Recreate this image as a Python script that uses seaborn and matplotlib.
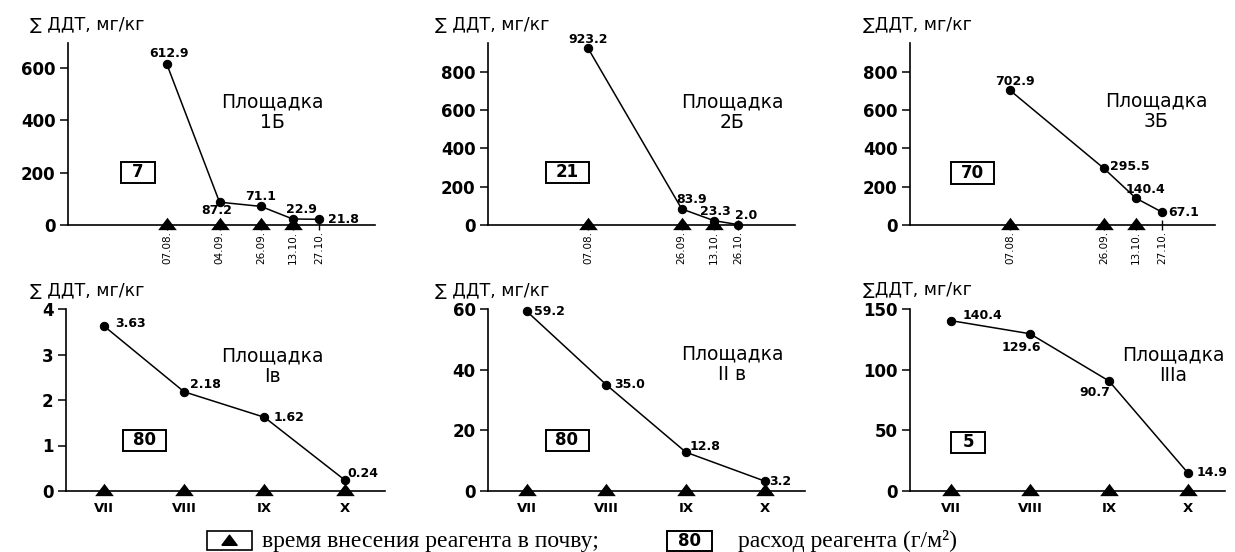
import numpy as np
import pandas as pd
import matplotlib
matplotlib.use('Agg')
import matplotlib.pyplot as plt
from matplotlib.markers import MarkerStyle
from matplotlib.patches import Rectangle
import seaborn as sns

# top row: sampling dates and sum of DDT, mg/kg
dates_1b = ['07.08.', '04.09.', '26.09.', '13.10.', '27.10.']
ddt_1b = [612.9, 87.2, 71.1, 22.9, 21.8]
treat_1b = ['07.08.', '04.09.', '26.09.', '13.10.']

dates_2b = ['07.08.', '26.09.', '13.10.', '26.10.']
ddt_2b = [923.2, 83.9, 23.3, 2.0]
treat_2b = ['07.08.', '26.09.', '13.10.']

dates_3b = ['07.08.', '26.09.', '13.10.', '27.10.']
ddt_3b = [702.9, 295.5, 140.4, 67.1]
treat_3b = ['07.08.', '26.09.', '13.10.']

# bottom row: months
months = ['VII', 'VIII', 'IX', 'X']
ddt_1v = [3.63, 2.18, 1.62, 0.24]
ddt_2v = [59.2, 35.0, 12.8, 3.2]
ddt_3a = [140.4, 129.6, 90.7, 14.9]
treat_months = ['VII', 'VIII', 'IX', 'X']

sites = ['1Б', '2Б', '3Б', 'Iв', 'II в', 'IIIа']
doses = [7, 21, 70, 80, 80, 5]
ylabels = ['∑ ДДТ, мг/кг', '∑ ДДТ, мг/кг', '∑ДДТ, мг/кг',
           '∑ ДДТ, мг/кг', '∑ ДДТ, мг/кг', '∑ДДТ, мг/кг']

sns.set_style('ticks')
plt.rcParams['font.family'] = ['DejaVu Sans']
plt.rcParams['text.color'] = 'black'
plt.rcParams['xtick.color'] = 'black'
plt.rcParams['ytick.color'] = 'black'
plt.rcParams['axes.edgecolor'] = 'black'

W, H = 1235, 552
fig = plt.figure(figsize=(W / 100, H / 100), dpi=100)


def rect(l, t, r, b):
    return [l / W, 1 - b / H, (r - l) / W, (b - t) / H]


def doy(d):
    return pd.to_datetime(d + '2001', format='%d.%m.%Y').dayofyear


TRI = MarkerStyle(np.array([[-1, -0.5], [1, -0.5], [0, 0.83], [-1, -0.5]]))


def draw(ax, x, y, tx, labels, offs, xlim, ylim, yticks):
    sns.lineplot(x=x, y=y, ax=ax, color='black', linewidth=1.1, marker='o',
                 markersize=6, markeredgecolor='black', clip_on=False, zorder=4)
    sns.scatterplot(x=tx, y=np.zeros(len(tx)), ax=ax, marker=TRI, s=180,
                    color='black', linewidth=0, clip_on=False, zorder=3)
    for xi, yi, s, (dx, dy, ha) in zip(x, y, labels, offs):
        ax.annotate(s, (xi, yi), xytext=(dx, dy), textcoords='offset points',
                    ha=ha, va='center', fontsize=9, fontweight='bold')
    ax.set_xlim(xlim)
    ax.set_ylim(ylim)
    ax.set_yticks(yticks, labels=[str(t) for t in yticks], fontsize=12,
                  fontweight='bold')
    ax.tick_params(axis='y', length=6, width=1.1, pad=3)
    for s in ['left', 'bottom']:
        ax.spines[s].set_linewidth(1.2)
    sns.despine(ax=ax)
    ax.set_xlabel('')
    ax.set_ylabel('')


# top row
top = [
    (dates_1b, ddt_1b, treat_1b, (68, 375), (166.3, 329.8), (0, 695), [0, 200, 400, 600],
     [(1.5, 8, 'center'), (-2, -6, 'center'), (0, 7, 'center'), (6, 6.5, 'center'), (6.5, 0, 'left')]),
    (dates_2b, ddt_2b, treat_2b, (488, 795), (165.7, 329.4), (0, 950), [0, 200, 400, 600, 800],
     [(0, 6.5, 'center'), (7, 6.5, 'center'), (1, 6.5, 'center'), (6, 6.5, 'center')]),
    (dates_3b, ddt_3b, treat_3b, (910, 1215), (165.7, 328.2), (0, 950), [0, 200, 400, 600, 800],
     [(3.5, 6.5, 'center'), (4.5, 1, 'left'), (7, 6, 'center'), (4.5, 0, 'left')]),
]
for dates, vals, treat, (l, r), xlim, ylim, yticks, offs in top:
    ax = fig.add_axes(rect(l, 43, r, 225))
    x = [doy(d) for d in dates]
    draw(ax, x, vals, [doy(d) for d in treat], [f'{v:.1f}' for v in vals],
         offs, xlim, ylim, yticks)
    ax.set_xticks(x, labels=dates, rotation=90, fontsize=7.5)
    ax.tick_params(axis='x', direction='inout', length=7, width=1, pad=1)

# bottom row
bottom = [
    (ddt_1v, 2, (66, 385), (-0.47, 3.5), (0, 4), [0, 1, 2, 3, 4],
     [(8, 2, 'left'), (4.5, 5, 'left'), (6.5, 0, 'left'), (1.5, 5, 'left')]),
    (ddt_2v, 1, (488, 805), (-0.49, 3.5), (0, 60), [0, 20, 40, 60],
     [(5, 0, 'left'), (5.5, 0, 'left'), (3, 4, 'left'), (3, 0, 'left')]),
    (ddt_3a, 1, (910, 1225), (-0.52, 3.47), (0, 150), [0, 50, 100, 150],
     [(8, 3.5, 'left'), (-6.5, -10, 'center'), (-10, -8, 'center'), (6, 0, 'left')]),
]
for vals, dec, (l, r), xlim, ylim, yticks, offs in bottom:
    ax = fig.add_axes(rect(l, 309, r, 491))
    x = np.arange(len(months))
    tx = [months.index(m) for m in treat_months]
    draw(ax, x, vals, tx, [f'{v:.{dec}f}' for v in vals], offs, xlim, ylim, yticks)
    ax.set_xticks(x, labels=months, fontsize=9.5, fontweight='bold')
    ax.tick_params(axis='x', length=0, pad=8)

# panel texts
ylab_pos = [(30, 25), (435, 25), (863, 25), (30, 291), (435, 291), (863, 290)]
site_pos = [(272, 112), (732, 112), (1156, 111), (272, 366), (732, 364), (1173, 365)]
box_pos = [(138, 172), (567, 172), (972, 173), (144, 440), (567, 440), (968, 442)]

for lab, (x, y) in zip(ylabels, ylab_pos):
    fig.text(x / W, 1 - y / H, lab, fontsize=12.5, ha='left', va='center')
for site, (x, y) in zip(sites, site_pos):
    fig.text(x / W, 1 - y / H, 'Площадка\n' + site, fontsize=13.5, ha='center',
             va='center', multialignment='center', linespacing=1.1)
for d, (x, y) in zip(doses, box_pos):
    w = 34 if d < 10 else 43
    fig.add_artist(Rectangle(((x - w / 2) / W, 1 - (y + 10.5) / H), w / W, 21 / H,
                             transform=fig.transFigure, fill=False, ec='black', lw=1.4))
    fig.text(x / W, 1 - y / H, str(d), fontsize=12, fontweight='bold',
             ha='center', va='center')

# legend row
fig.add_artist(Rectangle((207 / W, 1 - 550 / H), 45 / W, 19 / H,
                         transform=fig.transFigure, fill=False, ec='black', lw=1.2))
fig.add_artist(plt.Line2D([229.5 / W], [1 - 541 / H], marker=TRI, markersize=11,
                          color='black', linestyle='none', transform=fig.transFigure))
fig.text(262 / W, 1 - 547 / H, 'время внесения реагента в почву;', fontsize=17,
         family='Liberation Serif', ha='left', va='baseline')
fig.add_artist(Rectangle((667 / W, 1 - 551 / H), 45 / W, 20 / H,
                         transform=fig.transFigure, fill=False, ec='black', lw=1.4))
fig.text(689.5 / W, 1 - 541 / H, '80', fontsize=12, fontweight='bold',
         ha='center', va='center')
fig.text(738 / W, 1 - 547 / H, 'расход реагента (г/м²)', fontsize=17,
         family='Liberation Serif', ha='left', va='baseline')

fig.savefig('out.png', dpi=100)
